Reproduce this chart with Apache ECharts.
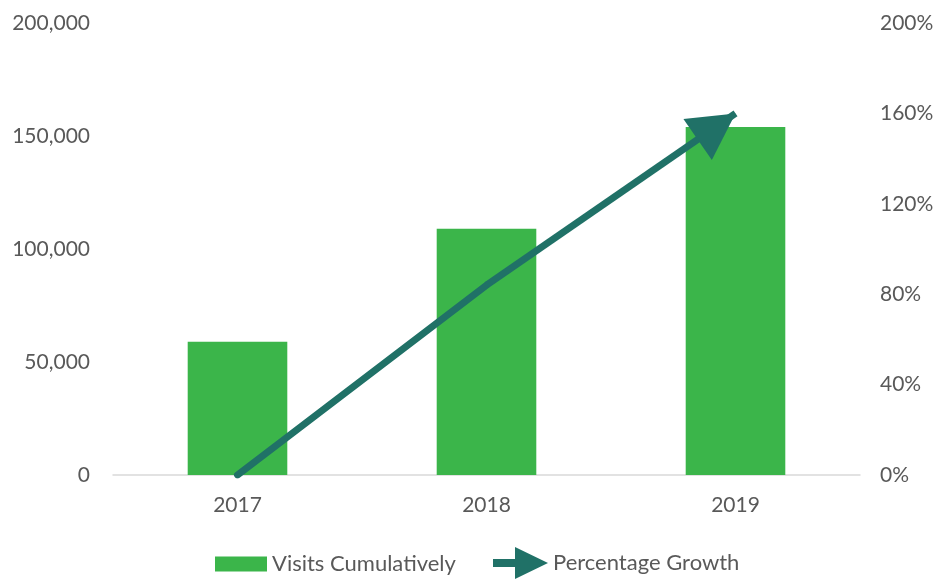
<!DOCTYPE html>
<html><head><meta charset="utf-8">
<script src="https://cdn.jsdelivr.net/npm/echarts@6/dist/echarts.min.js"></script>
<style>html,body{margin:0;padding:0;background:#fff}#c{width:938px;height:579px}</style>
</head><body><div id="c"></div>
<script>
const categories = ['2017', '2018', '2019'];
const visits = [59000, 109000, 154000];
const growth = [0, 84, 160];
const leftTicks = { min: 0, max: 200000, interval: 50000 };
const rightTicks = { min: 0, max: 200, interval: 40 };

const FONT = 'Lato';
const TXT = '#595959';
const GREEN = '#3bb54a';
const TEAL = '#207167';

const chart = echarts.init(document.getElementById('c'));
chart.setOption({
  animation: false,
  textStyle: { fontFamily: FONT },
  grid: { left: 113, right: 78, top: 23, bottom: 104 },
  xAxis: {
    type: 'category', data: categories,
    axisLine: { lineStyle: { color: '#d9d9d9', width: 1.5 } },
    axisTick: { show: false },
    axisLabel: { color: TXT, fontSize: 21, fontFamily: FONT, margin: 20 }
  },
  yAxis: [{
    type: 'value', min: leftTicks.min, max: leftTicks.max, interval: leftTicks.interval,
    splitLine: { show: false },
    axisLine: { show: false }, axisTick: { show: false },
    axisLabel: { color: TXT, fontSize: 21, fontFamily: FONT, margin: 23,
      formatter: v => v.toLocaleString('en-US') }
  }, {
    type: 'value', min: rightTicks.min, max: rightTicks.max, interval: rightTicks.interval,
    splitLine: { show: false },
    axisLine: { show: false }, axisTick: { show: false },
    axisLabel: { color: TXT, fontSize: 21, fontFamily: FONT, margin: 20, formatter: '{value}%' }
  }],
  legend: [{
    data: [{ name: 'Visits Cumulatively', icon: 'rect' }],
    left: 210, top: 548, itemWidth: 52, itemHeight: 15,
    textStyle: { color: TXT, fontSize: 22, fontFamily: FONT }
  }, {
    data: [{ name: 'Percentage Growth', icon: 'path://M0,12 L22,12 L22,0 L55,16 L22,32 L22,20 L0,20 Z',
      itemStyle: { color: TEAL } }],
    left: 488, top: 542, itemWidth: 55, itemHeight: 32,
    textStyle: { color: TXT, fontSize: 22, fontFamily: FONT }
  }],
  series: [{
    name: 'Visits Cumulatively', type: 'bar', data: visits, barWidth: '40%',
    itemStyle: { color: GREEN }
  }, {
    name: 'Percentage Growth', type: 'line', yAxisIndex: 1,
    data: growth.slice(0, 2), symbol: 'none',
    lineStyle: { color: TEAL, width: 7, cap: 'round' }, itemStyle: { color: TEAL },
    markLine: {
      silent: true,
      symbol: ['none', 'path://M0,-46 L0,-46 M0,0 L25,46 L-25,46 Z'],
      symbolSize: [50, 92],
      label: { show: false },
      lineStyle: { color: TEAL, width: 7, type: 'solid', cap: 'butt' },
      data: [[{ coord: [categories[1], growth[1]] }, { coord: [categories[2], growth[2]] }]]
    }
  }]
});
</script></body></html>
